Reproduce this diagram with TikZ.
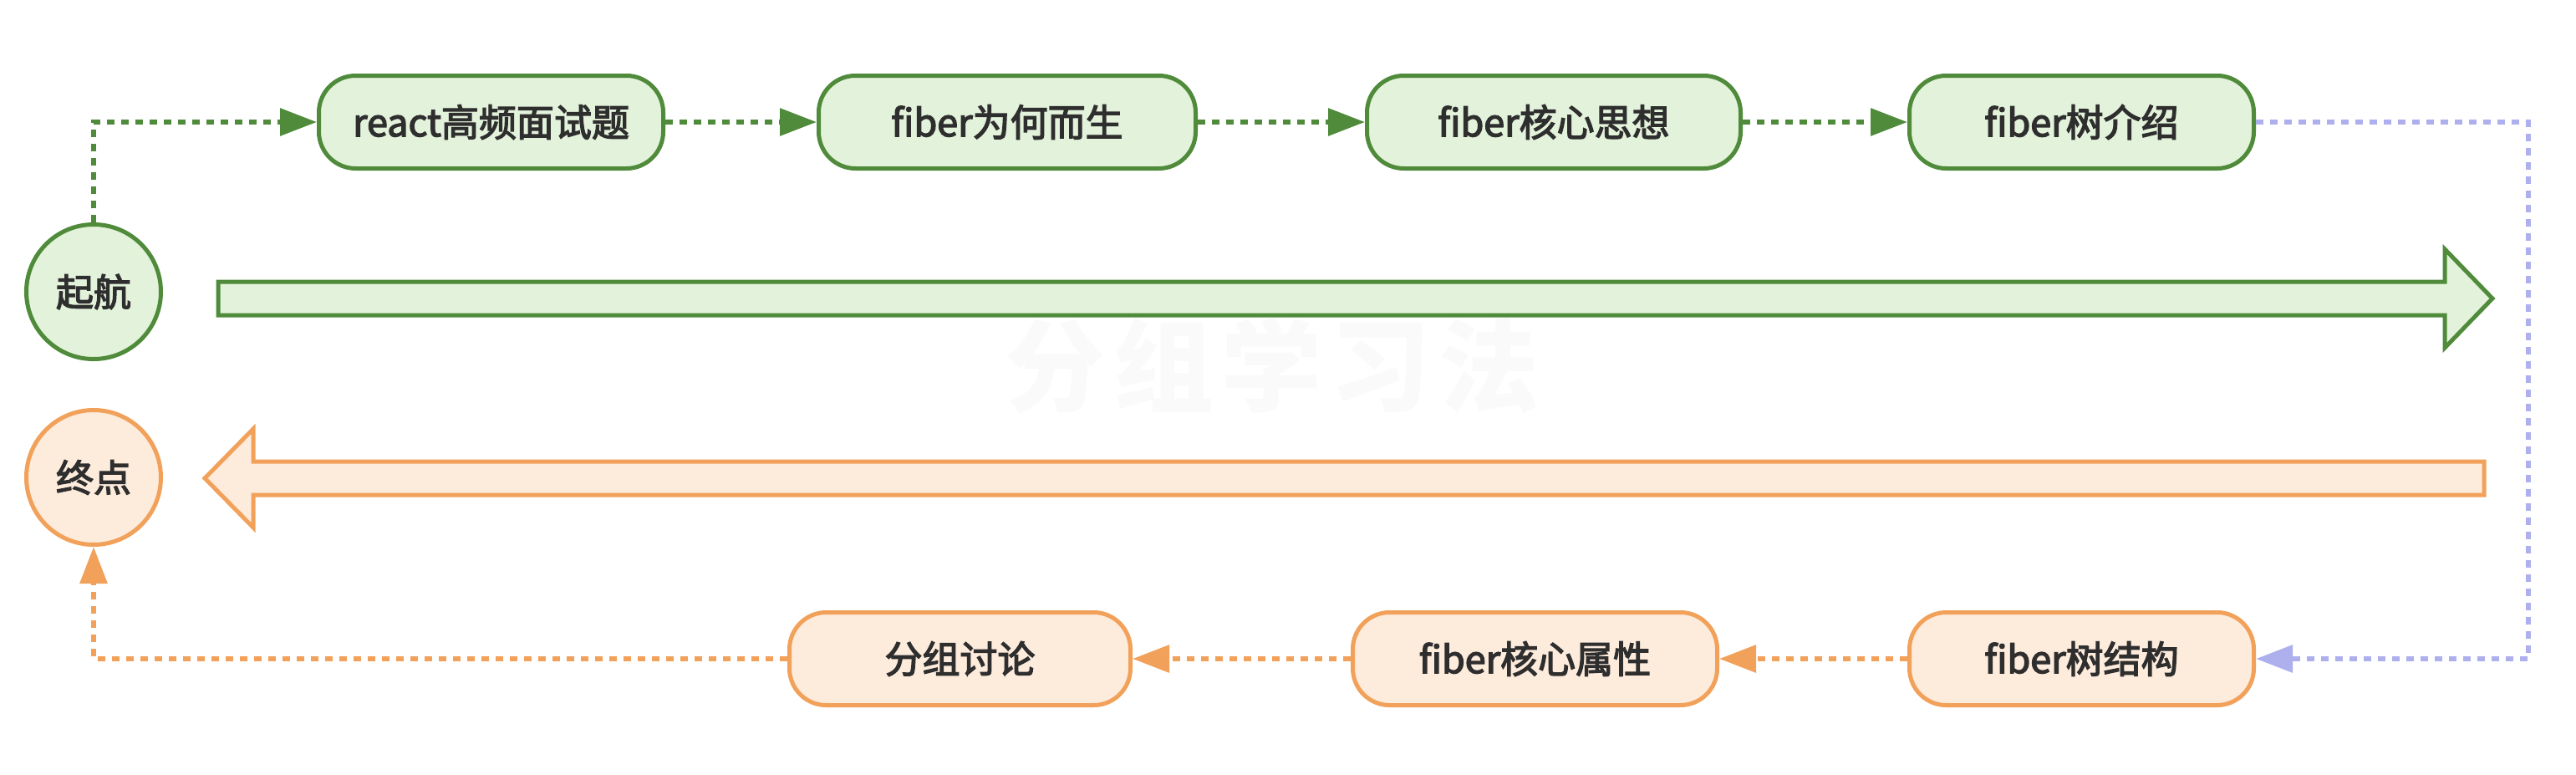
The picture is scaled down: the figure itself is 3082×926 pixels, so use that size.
\documentclass[tikz,border=0pt]{standalone}
\usepackage{fontspec}
\setmainfont{Noto Sans CJK SC}
\newfontfamily\lblfont[FakeBold=3]{Noto Sans CJK SC}
\newfontfamily\wmfont[LetterSpace=8]{Noto Sans CJK SC}
\usetikzlibrary{arrows.meta}
\definecolor{gstroke}{HTML}{4F8B3B}
\definecolor{gfill}{HTML}{E3F2DA}
\definecolor{ostroke}{HTML}{F2A15A}
\definecolor{ofill}{HTML}{FDEBDC}
\definecolor{lav}{HTML}{AEB0EE}
\definecolor{txt}{HTML}{2E2E2E}
\definecolor{wm}{HTML}{FAFAFA}
\begin{document}
\begin{tikzpicture}[x=0.5pt,y=-0.5pt,
  box/.style={draw, line width=2.5pt, rounded corners=22pt, minimum height=55.5pt,
    inner sep=0pt, text=txt, font=\lblfont\fontsize{22.5}{27}\selectfont},
  gbox/.style={box, draw=gstroke, fill=gfill},
  obox/.style={box, draw=ostroke, fill=ofill},
  term/.style={circle, draw, line width=2.5pt, minimum size=80.5pt, inner sep=0pt,
    text=txt, font=\lblfont\fontsize{22.5}{27}\selectfont},
  conn/.style={line width=3pt, dash pattern=on 4.5pt off 4pt,
    -{Triangle[length=22pt,width=16pt]}},
  gline/.style={conn, draw=gstroke},
  oline/.style={conn, draw=ostroke},
  pline/.style={conn, draw=lav},
  bigarrow/.style={line width=2.5pt, line join=miter}
]
\fill[white] (0,0) rectangle (3082,926);
\useasboundingbox (0,0) rectangle (3082,926);

% watermark
\node[text=wm, font=\wmfont\fontsize{60}{64}\selectfont\bfseries] (wmk) at (1522,437) {分组学习法};

% big arrows
\draw[bigarrow, draw=gstroke, fill=gfill] (261,337) -- (2925,337) -- (2925,298) -- (2982,357)
  -- (2925,416) -- (2925,377) -- (261,377) -- cycle;
\draw[bigarrow, draw=ostroke, fill=ofill] (2972,552) -- (303,552) -- (303,513) -- (245,572)
  -- (303,631) -- (303,592) -- (2972,592) -- cycle;

% terminals
\node[term, draw=gstroke, fill=gfill] (qh) at (112,349) {起航};
\node[term, draw=ostroke, fill=ofill] (zd) at (112,571) {终点};

% top row
\node[gbox, minimum width=206pt] (b1) at (587.5,146) {react高频面试题};
\node[gbox, minimum width=225.5pt] (b2) at (1205,146) {fiber为何而生};
\node[gbox, minimum width=223.5pt] (b3) at (1859,146) {fiber核心思想};
\node[gbox, minimum width=206pt] (b4) at (2490.5,146) {fiber树介绍};

% bottom row
\node[obox, minimum width=204pt] (c1) at (1148.5,788) {分组讨论};
\node[obox, minimum width=218pt] (c2) at (1836.5,788) {fiber核心属性};
\node[obox, minimum width=206pt] (c3) at (2490.5,788) {fiber树结构};

\coordinate (rc) at (3025,788);

% connectors
\draw[gline] (qh.north) |- (b1.west);
\draw[gline] (b1.east) -- (b2.west);
\draw[gline] (b2.east) -- (b3.west);
\draw[gline] (b3.east) -- (b4.west);
\draw[pline] (b4.east) -| (rc) -- (c3.east);
\draw[oline] (c3.west) -- (c2.east);
\draw[oline] (c2.west) -- (c1.east);
\draw[oline] (c1.west) -| (zd.south);
\end{tikzpicture}
\end{document}
